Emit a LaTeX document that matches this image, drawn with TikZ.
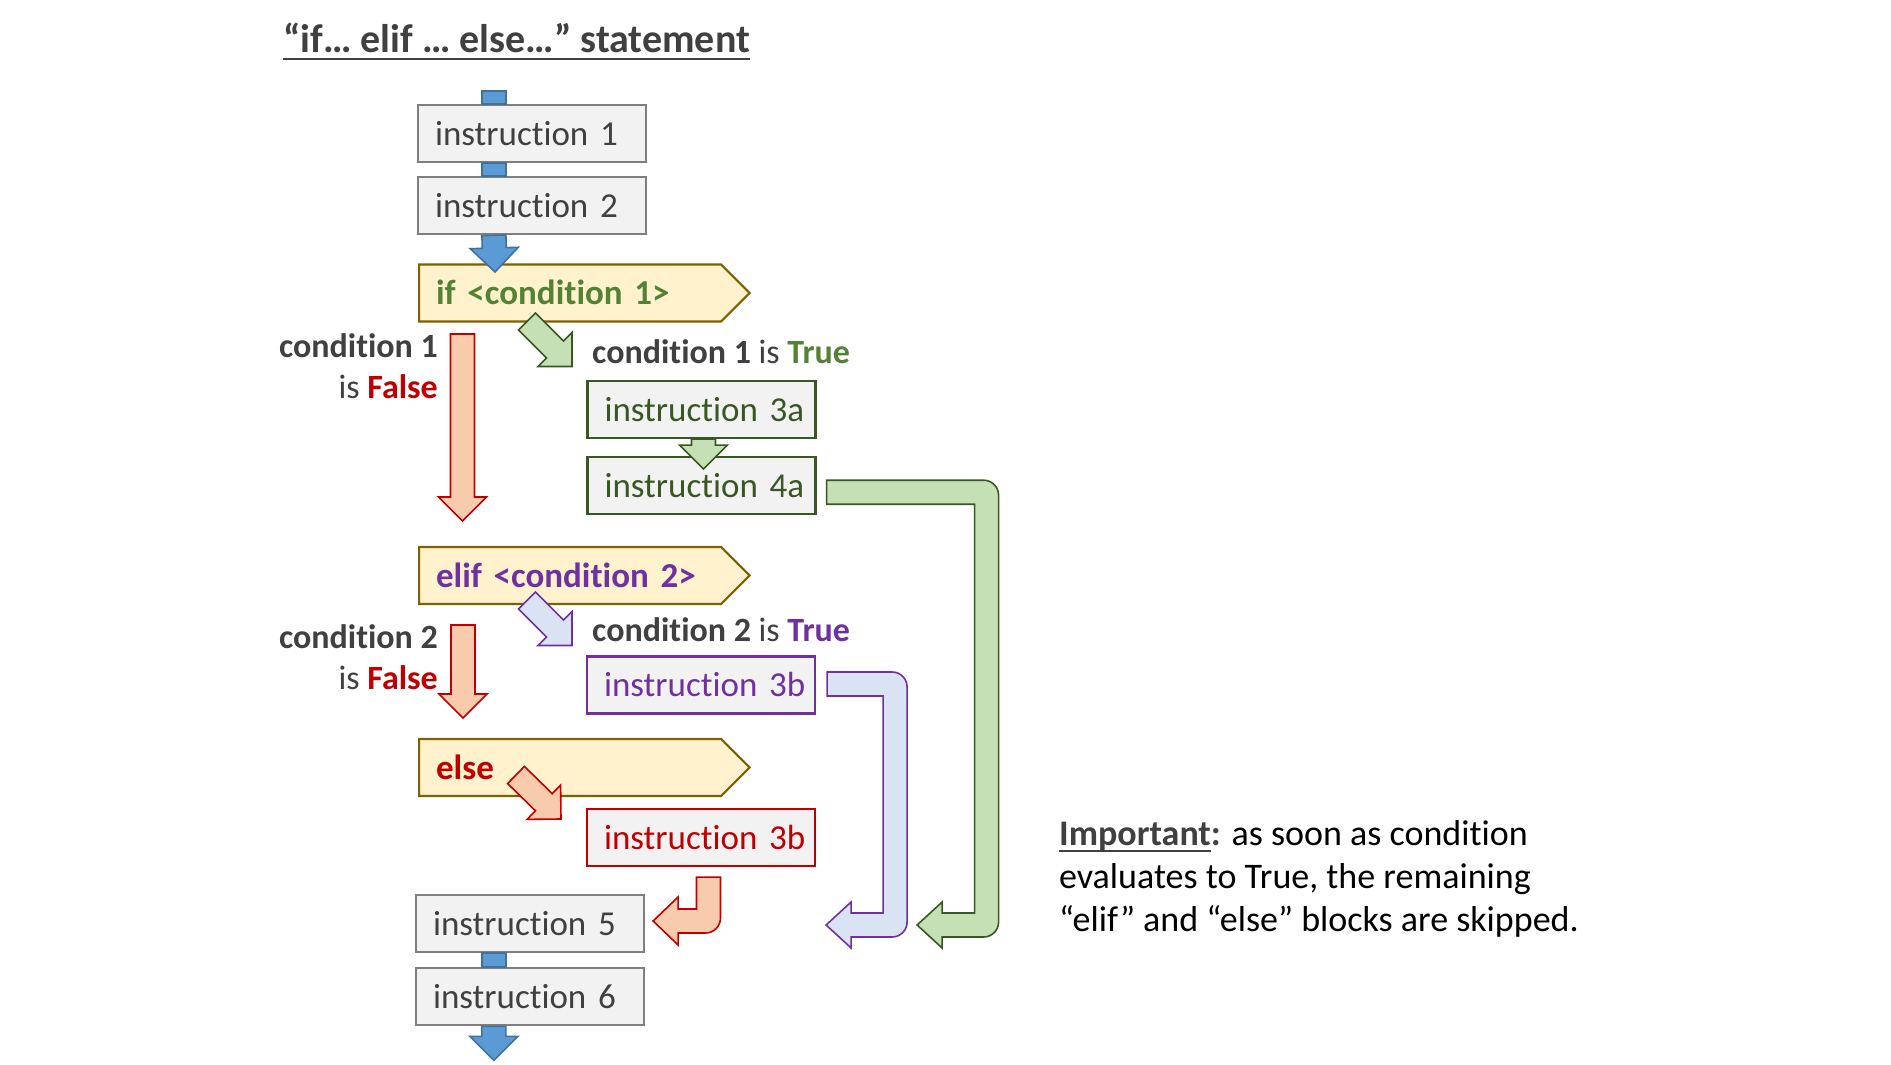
\documentclass[tikz,border=0pt]{standalone}
\usepackage{fontspec}
\setmainfont{Carlito}[Ligatures=NoCommon]
\usetikzlibrary{positioning, calc, shapes.symbols}

\definecolor{txtgray}{HTML}{404040}
\definecolor{boxfill}{HTML}{F2F2F2}
\definecolor{boxline}{HTML}{7F7F7F}
\definecolor{ifill}{HTML}{FFF2CC}
\definecolor{iline}{HTML}{7F6000}
\definecolor{gtext}{HTML}{548235}
\definecolor{gdark}{HTML}{385723}
\definecolor{gfill}{HTML}{C5E0B4}
\definecolor{ptext}{HTML}{7030A0}
\definecolor{pfill}{HTML}{DAE3F3}
\definecolor{rtext}{HTML}{C00000}
\definecolor{rfill}{HTML}{F8CBAD}
\definecolor{bfill}{HTML}{5B9BD5}
\definecolor{bline}{HTML}{41719C}

\newcommand{\fs}{\fontsize{36}{43}\selectfont}
\newcommand{\thickul}[1]{\setbox0\hbox{#1}\rlap{\rule[-7pt]{\wd0}{2.5pt}}\box0}

% straight block arrow: style, from, offset, to, offset
\newcommand{\blockarrow}[5]{%
  \path let \p1=($(#4)+(#5)-(#2)-(#3)$) in
    \pgfextra{\pgfmathsetmacro\arang{atan2(\y1,\x1)}%
      \pgfmathsetmacro\arlen{veclen(\x1,\y1)}%
      \xdef\arang{\arang}\xdef\arlen{\arlen}};
  \draw[#1, shift={($(#2)+(#3)$)}, rotate=\arang]
    (0pt,-12pt) -- ({\arlen pt-24pt},-12pt) -- ({\arlen pt-24pt},-24pt)
    -- ({\arlen pt},0pt) -- ({\arlen pt-24pt},24pt) -- ({\arlen pt-24pt},12pt)
    -- (0pt,12pt) -- cycle;
}

% right, down, back left: style, from, offset, to, offset, bar
\newcommand{\uturnarrow}[6]{%
  \draw[#1] let \p1=($(#2)+(#3)$), \p2=($(#4)+(#5)$) in
    (\x1,{\y1+12pt}) [rounded corners=15pt]
    -- ({\x1+#6pt+12pt},{\y1+12pt}) -- ({\x1+#6pt+12pt},{\y2-12pt}) [sharp corners]
    -- ({\x2+25pt},{\y2-12pt}) -- ({\x2+25pt},{\y2-23pt}) -- (\x2,\y2)
    -- ({\x2+25pt},{\y2+23pt}) -- ({\x2+25pt},{\y2+12pt})
    -- ({\x1+#6pt-12pt},{\y2+12pt}) -- ({\x1+#6pt-12pt},{\y1-12pt})
    -- (\x1,{\y1-12pt}) -- cycle;
}

% down, then left: style, from, offset, to, offset
\newcommand{\elbowarrow}[5]{%
  \draw[#1] let \p1=($(#2)+(#3)$), \p2=($(#4)+(#5)$) in
    ({\x1-12pt},\y1) -- ({\x1+12pt},\y1) [rounded corners=15pt]
    -- ({\x1+12pt},{\y2-12pt}) [sharp corners]
    -- ({\x2+25pt},{\y2-12pt}) -- ({\x2+25pt},{\y2-24pt}) -- (\x2,\y2)
    -- ({\x2+25pt},{\y2+24pt}) -- ({\x2+25pt},{\y2+12pt})
    -- ({\x1-12pt},{\y2+12pt}) -- cycle;
}

\begin{document}
\begin{tikzpicture}[x=1pt, y=-1pt,
  instr/.style = {draw=boxline, fill=boxfill, line width=2.2pt, text width=228pt,
    align=left, inner xsep=0pt, inner ysep=0pt, minimum height=57pt,
    text height=23pt, text depth=0pt, font=\fontsize{35}{42}\selectfont, text=txtgray,
    execute at begin node=\hspace*{17pt}},
  cond/.style = {signal, signal to=east, signal pointer angle=90, draw=iline,
    fill=ifill, line width=2.2pt, text width=268pt, align=left, inner xsep=17pt,
    inner ysep=0pt, minimum height=57pt, text height=23pt, text depth=0pt,
    font=\fontsize{35}{42}\selectfont\bfseries, anchor=west},
  lbl/.style = {inner sep=0pt, font=\fontsize{34}{41}\selectfont\bfseries, text=txtgray},
  bluebar/.style = {draw=bline, fill=bfill, line width=1.6pt},
  greenarrow/.style = {draw=gdark, fill=gfill, line width=1.6pt},
  purplearrow/.style = {draw=ptext, fill=pfill, line width=1.6pt},
  redarrow/.style = {draw=rtext, fill=rfill, line width=1.6pt}
]
\useasboundingbox (0,0) rectangle (1891,1065);

% title
\node[lbl, font=\fontsize{40}{48}\selectfont\bfseries, anchor=base west] (title) at (283,53)
  {\thickul{“if… elif … else…” statement}};

% main column
\node[instr] (i1) at (532,133.5) {instruction 1};
\node[instr, below=13pt of i1] (i2) {instruction 2};
\node[cond, text=gtext] (if) at (418,293) {if <condition 1>};
\node[cond, text=ptext] (elif) at (418,575.5) {elif <condition 2>};
\node[cond, text=rtext] (else) at (418,767.5) {else};
\node[instr] (i5) at (530,923.5) {instruction 5};
\node[instr, below=14pt of i5] (i6) {instruction 6};

% branches
\node[instr, draw=gdark, text=gdark] (i3a) at (701.5,409.5) {instruction 3a};
\node[instr, draw=gdark, text=gdark, below=17pt of i3a] (i4a) {instruction 4a};
\node[instr, draw=ptext, text=ptext] (i3b) at (701,685) {instruction 3b};
\node[instr, draw=rtext, text=rtext] (i3c) at (701,837.5) {instruction 3b};

% labels
\node[lbl, anchor=base west] (c1true) at (592,363) {condition 1 {\mdseries is} \textcolor{gtext}{True}};
\node[lbl, align=right, anchor=base east] (c1false) at (438,398) {condition 1\\{\mdseries is} \textcolor{rtext}{False}};
\node[lbl, anchor=base west] (c2true) at (592,641) {condition 2 {\mdseries is} \textcolor{ptext}{True}};
\node[lbl, align=right, anchor=base east] (c2false) at (438,689) {condition 2\\{\mdseries is} \textcolor{rtext}{False}};

% note
\node[anchor=base west, align=left, inner sep=0pt, font=\fs] (note) at (1059,931)
  {\textcolor{txtgray}{\textbf{\thickul{Important}:}} as soon as condition\\
   evaluates to True, the remaining\\
   “elif” and “else” blocks are skipped.};

% blue flow
\draw[bluebar] ($(i1.north west)+(65,-13)$) rectangle ($(i1.north west)+(89,0)$);
\draw[bluebar] ($(i1.south west)+(65,0)$) rectangle ($(i2.north west)+(89,0)$);
\blockarrow{bluebar}{i2.south west}{77,0}{if.west}{77,-21}
\draw[bluebar] ($(i5.south west)+(67,0)$) rectangle ($(i6.north west)+(91,0)$);
\blockarrow{bluebar}{i6.south west}{79,0}{i6.south west}{79,34}

% if
\blockarrow{greenarrow}{if.west}{109,28.5}{if.west}{154,73.5}
\blockarrow{greenarrow}{i3a.south}{2,0}{i4a.north}{2,13}
\blockarrow{redarrow}{if.west}{44.5,41}{elif.west}{44.5,-54.5}
\uturnarrow{greenarrow}{i4a.east}{10,6.5}{i5.east}{272,1.5}{160}

% elif
\blockarrow{purplearrow}{elif.west}{109,25}{elif.west}{154,70}
\blockarrow{redarrow}{elif.west}{45,49.5}{else.west}{45,-49.5}
\uturnarrow{purplearrow}{i3b.east}{11,-1}{i5.east}{181,1.5}{68}

% else
\blockarrow{redarrow}{else.west}{98,7.5}{else.west}{143,51.5}
\elbowarrow{redarrow}{i3c.south}{7.5,10}{i5.east}{8,-2.5}

\end{tikzpicture}
\end{document}
